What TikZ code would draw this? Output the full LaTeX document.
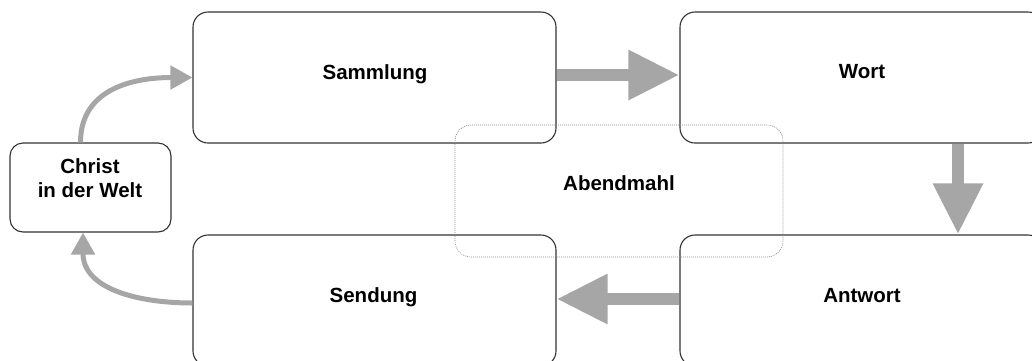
\documentclass[tikz,border=0pt]{standalone}
\usepackage{fontspec}
\setmainfont{Liberation Sans}
\usetikzlibrary{arrows.meta}
\definecolor{arrowgray}{HTML}{A6A6A6}
\definecolor{boxline}{HTML}{333333}
\definecolor{dotline}{HTML}{8C8C8C}
\begin{document}
\begin{tikzpicture}[x=1pt,y=-1pt,
  box/.style={draw=boxline, line width=1.1pt, rounded corners=15pt, inner sep=0pt},
  dotbox/.style={draw=dotline, line width=0.6pt, dash pattern=on 1pt off 1pt, rounded corners=16pt, inner sep=0pt},
  lbl/.style={font=\fontsize{20.5}{24}\selectfont\bfseries, anchor=base, inner sep=0pt, align=center},
  bigarrow/.style={draw=arrowgray, line width=12pt, -{Triangle[length=51pt,width=47pt]}, arrowgray},
  curvearrow/.style={draw=arrowgray, line width=5pt, -{Triangle[length=22pt,width=23pt]}, arrowgray}
]
\useasboundingbox (0,0) rectangle (1032,360);
\clip (0,0) rectangle (1032,360);

% boxes
\node[box, minimum width=363pt, minimum height=131pt] (sam) at (374.5,77.5) {};
\node[box, minimum width=363pt, minimum height=131pt] (wort) at (861.5,77.5) {};
\node[box, minimum width=363pt, minimum height=131pt] (send) at (374.5,300.5) {};
\node[box, minimum width=363pt, minimum height=131pt] (antw) at (861.5,300.5) {};
\node[box, rounded corners=13pt, minimum width=161pt, minimum height=89pt] (christ) at (90.5,187.5) {};
\node[dotbox, minimum width=328pt, minimum height=132pt] (abend) at (619,191) {};

% labels
\node[lbl] (tsam) at (375,79) {Sammlung};
\node[lbl] (twort) at (862,78) {Wort};
\node[lbl] (tsend) at (373.5,302) {Sendung};
\node[lbl] (tantw) at (862,302) {Antwort};
\node[lbl] (tabend) at (619,190.5) {Abendmahl};
\node[lbl] (tchrist1) at (90,173) {Christ};
\node[lbl] (tchrist2) at (90,197) {in der Welt};

% thick arrows
\draw[bigarrow] ([yshift=2.5pt]sam.east) -- ([yshift=2.5pt]wort.west);
\draw[bigarrow] ([xshift=96.5pt]wort.south) -- ([xshift=96.5pt]antw.north);
\draw[bigarrow] ([yshift=1.5pt]antw.west) -- ([yshift=1.5pt]send.east);

% curved arrows
\draw[curvearrow] ([xshift=-10pt]christ.north) to[out=90,in=180,looseness=1.1] (sam.west);
\draw[curvearrow] ([yshift=-2.5pt]send.west) to[out=180,in=270,looseness=1.1] ([xshift=-7.5pt]christ.south);
\end{tikzpicture}
\end{document}
